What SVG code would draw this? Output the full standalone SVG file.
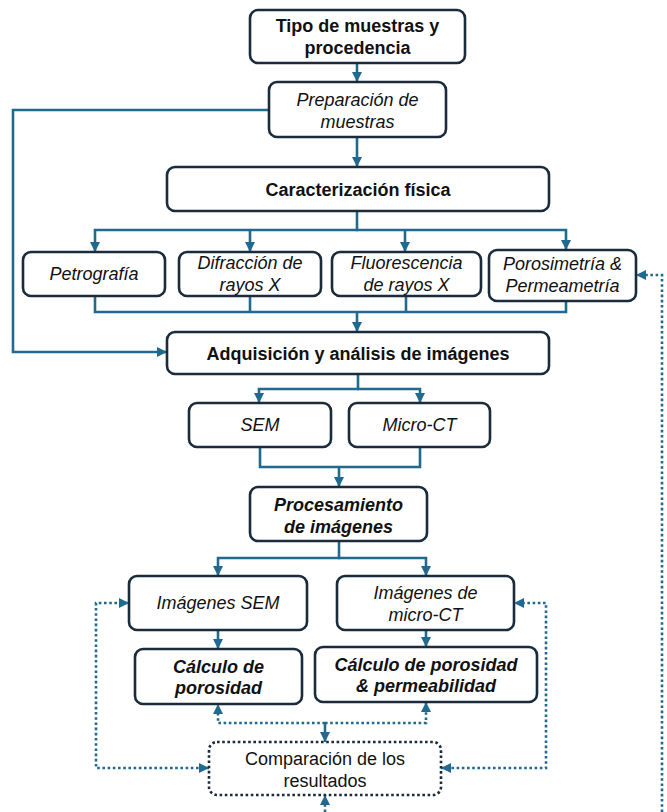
<svg xmlns="http://www.w3.org/2000/svg" width="667" height="812" viewBox="0 0 667 812">
<style>
  .box{fill:#fff;stroke:#1a2b3c;stroke-width:2.6}
  .dbox{fill:#fff;stroke:#1a2b3c;stroke-width:2.6;stroke-dasharray:2.6 2.6}
  .c{fill:none;stroke:#1f6a8e;stroke-width:2.6}
  .d{fill:none;stroke:#1f6a8e;stroke-width:2.6;stroke-dasharray:2.6 2.6}
  text{font-family:"Liberation Sans",Arial,sans-serif;font-size:18px;fill:#111;text-anchor:middle}
  .b{font-weight:bold}
  .i{font-style:italic}
  .bi{font-weight:bold;font-style:italic}
</style>
<defs>
  <marker id="ah" viewBox="0 0 10 10" refX="10" refY="5" markerWidth="10" markerHeight="10" markerUnits="userSpaceOnUse" orient="auto-start-reverse">
    <path d="M0,0 L10,5 L0,10 z" fill="#1f6a8e"/>
  </marker>
</defs>

<g id="connectors">
  <path class="c" d="M357,63 V82" marker-end="url(#ah)"/>
  <path class="c" d="M269,110 H13 V352 H167" marker-end="url(#ah)"/>
  <path class="c" d="M357,137 V167" marker-end="url(#ah)"/>
  <path class="c" d="M357,211 V230"/>
  <path class="c" d="M358,230 H95 V252" marker-end="url(#ah)"/>
  <path class="c" d="M356,230 H566 V250" marker-end="url(#ah)"/>
  <path class="c" d="M250,230 V252" marker-end="url(#ah)"/>
  <path class="c" d="M405,230 V252" marker-end="url(#ah)"/>
  <path class="c" d="M95,296 V312 H566 V301"/>
  <path class="c" d="M250,296 V312"/>
  <path class="c" d="M406,296 V312"/>
  <path class="c" d="M357,312 V332" marker-end="url(#ah)"/>
  <path class="c" d="M358,374 V389"/>
  <path class="c" d="M359,389 H259 V403" marker-end="url(#ah)"/>
  <path class="c" d="M357,389 H420 V403" marker-end="url(#ah)"/>
  <path class="c" d="M260,447 V467 H420 V447"/>
  <path class="c" d="M339,467 V487" marker-end="url(#ah)"/>
  <path class="c" d="M339,541 V558"/>
  <path class="c" d="M340,558 H218 V576" marker-end="url(#ah)"/>
  <path class="c" d="M338,558 H426 V576" marker-end="url(#ah)"/>
  <path class="c" d="M218,630 V649" marker-end="url(#ah)"/>
  <path class="c" d="M426,630 V647" marker-end="url(#ah)"/>
  <path class="d" d="M325,723 H218 V704" marker-end="url(#ah)"/>
  <path class="d" d="M325,723 H426 V702" marker-end="url(#ah)"/>
  <path class="c" d="M325,723 V742" marker-end="url(#ah)"/>
  <path class="d" d="M209,768 H96 V603 H129" marker-start="url(#ah)" marker-end="url(#ah)"/>
  <path class="d" d="M441,768 H546 V603 H514" marker-start="url(#ah)" marker-end="url(#ah)"/>
  <path class="d" d="M325,812 V795" marker-end="url(#ah)"/>
  <path class="d" d="M662,812 V275 H636" marker-end="url(#ah)"/>
</g>

<g id="n-tipo"><rect class="box" x="250" y="10" width="215" height="53" rx="8"/>
  <text class="b" x="357.5" y="32" font-size="17.5">Tipo de muestras y</text>
  <text class="b" x="357.5" y="54" font-size="17.5">procedencia</text></g>
<g id="n-prep"><rect class="box" x="269" y="82" width="177" height="55" rx="8"/>
  <text class="i" x="357.5" y="106">Preparación de</text>
  <text class="i" x="357.5" y="128">muestras</text></g>
<g id="n-caract"><rect class="box" x="167" y="167" width="382" height="44" rx="8"/>
  <text class="b" x="358" y="195.5">Caracterización física</text></g>
<g id="n-petro"><rect class="box" x="23" y="252" width="142" height="44" rx="8"/>
  <text class="i" x="94" y="280">Petrografía</text></g>
<g id="n-difr"><rect class="box" x="179" y="252" width="142" height="44" rx="8"/>
  <text class="i" x="250" y="269">Difracción de</text>
  <text class="i" x="250" y="291">rayos X</text></g>
<g id="n-fluor"><rect class="box" x="332" y="252" width="149" height="44" rx="8"/>
  <text class="i" x="406.5" y="269">Fluorescencia</text>
  <text class="i" x="406.5" y="291">de rayos X</text></g>
<g id="n-poro"><rect class="box" x="489" y="250" width="147" height="51" rx="8"/>
  <text class="i" x="562.5" y="270">Porosimetría &amp;</text>
  <text class="i" x="562.5" y="292">Permeametría</text></g>
<g id="n-adq"><rect class="box" x="167" y="332" width="382" height="42" rx="8"/>
  <text class="b" x="358" y="359.5">Adquisición y análisis de imágenes</text></g>
<g id="n-sem"><rect class="box" x="189" y="403" width="142" height="44" rx="8"/>
  <text class="i" x="260" y="431">SEM</text></g>
<g id="n-mct"><rect class="box" x="349" y="403" width="141" height="44" rx="8"/>
  <text class="i" x="419.5" y="431">Micro-CT</text></g>
<g id="n-proc"><rect class="box" x="250" y="487" width="177" height="54" rx="8"/>
  <text class="bi" x="338.5" y="511">Procesamiento</text>
  <text class="bi" x="338.5" y="533">de imágenes</text></g>
<g id="n-imsem"><rect class="box" x="129" y="576" width="178" height="54" rx="8"/>
  <text class="i" x="218" y="609">Imágenes SEM</text></g>
<g id="n-immct"><rect class="box" x="337" y="576" width="177" height="54" rx="8"/>
  <text class="i" x="425.5" y="599">Imágenes de</text>
  <text class="i" x="425.5" y="621">micro-CT</text></g>
<g id="n-calc1"><rect class="box" x="135" y="649" width="167" height="55" rx="8"/>
  <text class="bi" x="218.5" y="673">Cálculo de</text>
  <text class="bi" x="218.5" y="694">porosidad</text></g>
<g id="n-calc2"><rect class="box" x="315" y="647" width="222" height="55" rx="8"/>
  <text class="bi" x="426" y="671">Cálculo de porosidad</text>
  <text class="bi" x="426" y="692">&amp; permeabilidad</text></g>
<g id="n-comp"><rect class="dbox" x="209" y="742" width="232" height="53" rx="8"/>
  <text x="325" y="765">Comparación de los</text>
  <text x="325" y="787">resultados</text></g>
</svg>
